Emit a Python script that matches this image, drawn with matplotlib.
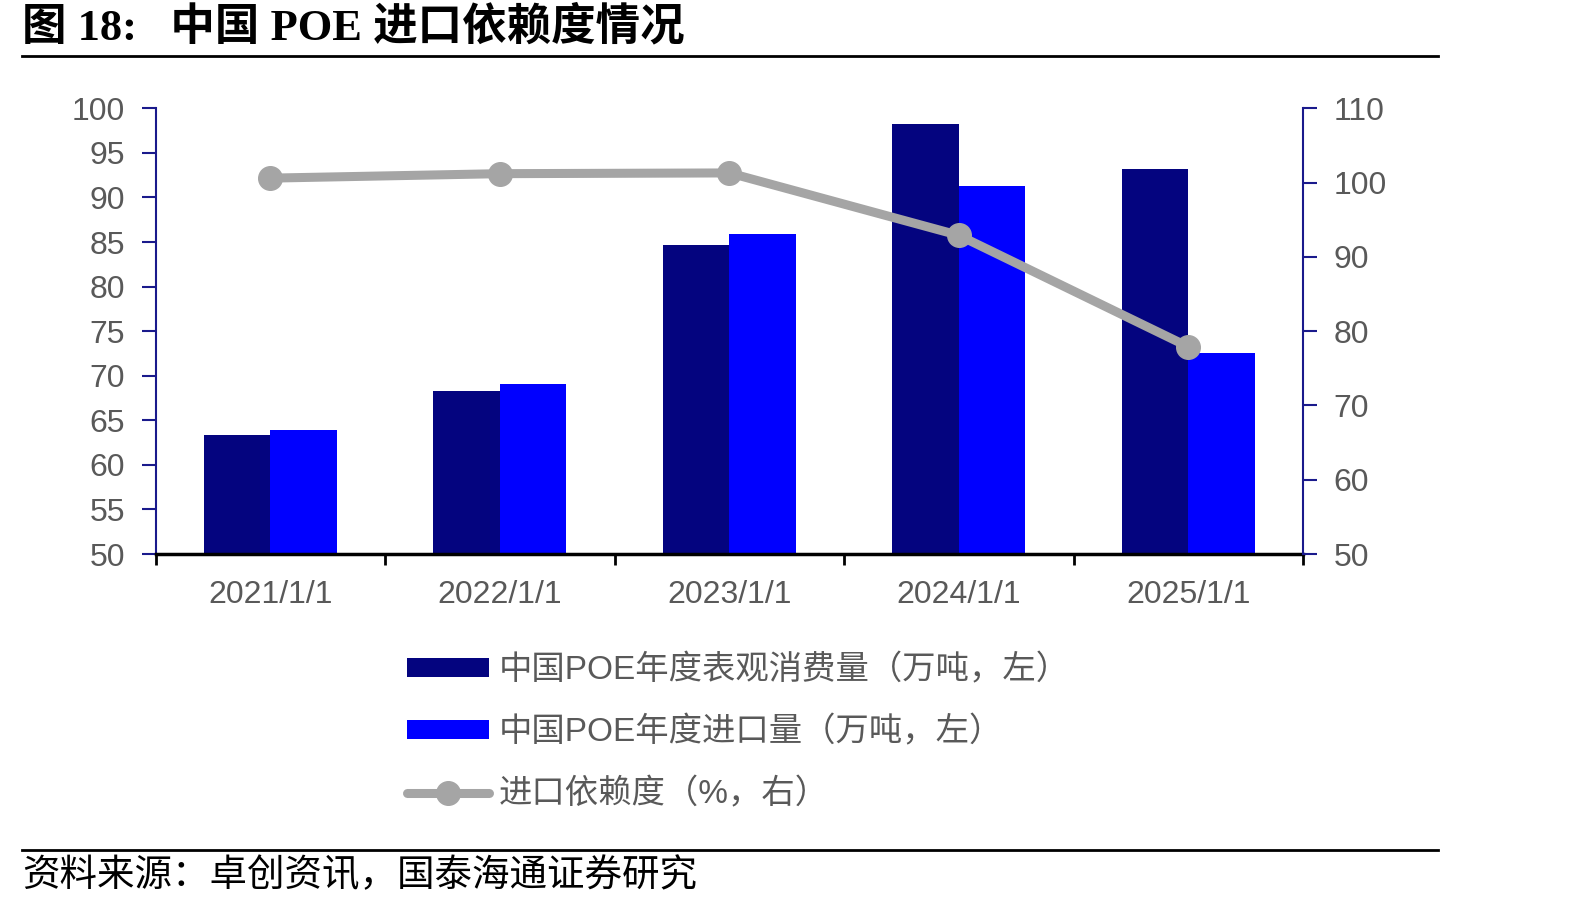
import matplotlib
matplotlib.use("Agg")
import matplotlib.pyplot as plt
import numpy as np
from matplotlib.lines import Line2D

# ******************** DATA ********************
dates = ["2021/1/1", "2022/1/1", "2023/1/1", "2024/1/1", "2025/1/1"]
consumption = [63.4, 68.3, 84.7, 98.2, 93.2]      # 万吨, left
imports = [63.9, 69.1, 85.9, 91.3, 72.6]          # 万吨, left
dependence = [100.6, 101.2, 101.3, 92.9, 77.9]    # %, right

label_cons = "中国POE年度表观消费量（万吨，左）"
label_imp = "中国POE年度进口量（万吨，左）"
label_dep = "进口依赖度（%，右）"

DARK = "#04047f"
BLUE = "#0000ff"
GREY_LINE = "#a5a5a5"
TXT = "#595959"
AXIS_BLUE = "#1a1a8c"

lat_cjk = ["Liberation Sans", "Noto Sans CJK SC"]

fig = plt.figure(figsize=(15.94, 9.10), dpi=100)
ax = fig.add_axes([155.7 / 1594, 1 - 554 / 910, (1303 - 155.7) / 1594, (554 - 108.3) / 910])
ax2 = ax.twinx()

# ******************** BARS ********************
x = np.arange(len(dates))
w = 0.29
ax.bar(x - w / 2, consumption, width=w, color=DARK, label=label_cons, zorder=2)
ax.bar(x + w / 2, imports, width=w, color=BLUE, label=label_imp, zorder=2)
ax.set_ylim(50, 100)
ax.set_yticks(np.arange(50, 101, 5))
ax.set_xlim(-0.5, len(dates) - 0.5)

# ******************** LINE ********************
ax2.plot(x, dependence, color=GREY_LINE, lw=6.5, marker="o", ms=17,
         solid_capstyle="round", label=label_dep, zorder=3)
ax2.set_ylim(50, 110)
ax2.set_yticks(np.arange(50, 111, 10))

# ******************** AXES STYLE ********************
ax.set_xticks(x)
ax.set_xticklabels(dates)
ax.set_xticks(np.arange(-0.5, len(dates), 1), minor=True)
ax.tick_params(axis="x", which="major", length=0, pad=19, labelsize=23, labelcolor=TXT)
ax.tick_params(axis="x", which="minor", length=8, width=2, color="black", direction="out")
for t in ax.get_xticklabels():
    t.set_fontfamily("Liberation Sans")

ax.tick_params(axis="y", length=10, width=1.5, color=AXIS_BLUE, pad=12, labelsize=23, labelcolor=TXT)
ax2.tick_params(axis="y", length=10, width=1.5, color=AXIS_BLUE, pad=12, labelsize=23, labelcolor=TXT)
for t in ax.get_yticklabels() + ax2.get_yticklabels():
    t.set_fontfamily("Liberation Sans")

for a in (ax, ax2):
    for s in a.spines.values():
        s.set_visible(False)
ax.spines["left"].set_visible(True)
ax.spines["left"].set_color(AXIS_BLUE)
ax.spines["left"].set_linewidth(1.5)
ax2.spines["right"].set_visible(True)
ax2.spines["right"].set_color(AXIS_BLUE)
ax2.spines["right"].set_linewidth(1.5)
ax.spines["bottom"].set_visible(True)
ax.spines["bottom"].set_color("black")
ax.spines["bottom"].set_linewidth(2.5)
ax.spines["bottom"].set_zorder(4)

# ******************** LEGEND ********************
h1, l1 = ax.get_legend_handles_labels()
h2, l2 = ax2.get_legend_handles_labels()
leg = fig.legend(h1 + h2, l1 + l2, loc="upper left", bbox_to_anchor=(407 / 1594, 1 - 654 / 910),
                 frameon=False, borderpad=0, borderaxespad=0, handlelength=2.45, handleheight=0.5,
                 handletextpad=0.3, labelspacing=0.9,
                 prop={"family": lat_cjk, "size": 24, "weight": "light"})
for t in leg.get_texts():
    t.set_color(TXT)

# ******************** TITLE / FOOTER ********************
fig.text(22 / 1594, 1 - 27 / 910, "图 18:   中国 POE 进口依赖度情况", ha="left", va="center",
         fontsize=32, fontweight="bold", family=["Liberation Serif", "Noto Sans CJK SC"], color="black")
fig.add_artist(Line2D([22 / 1594, 1438 / 1594], [1 - 56 / 910, 1 - 56 / 910], color="black", lw=2))
fig.add_artist(Line2D([22 / 1594, 1438 / 1594], [1 - 850 / 910, 1 - 850 / 910], color="black", lw=2))
fig.text(22 / 1594, 1 - 876 / 910, "资料来源：卓创资讯，国泰海通证券研究", ha="left", va="center",
         fontsize=27, family=["Noto Sans CJK SC"], fontweight="light", color="black")

fig.savefig("out.png", dpi=100)
